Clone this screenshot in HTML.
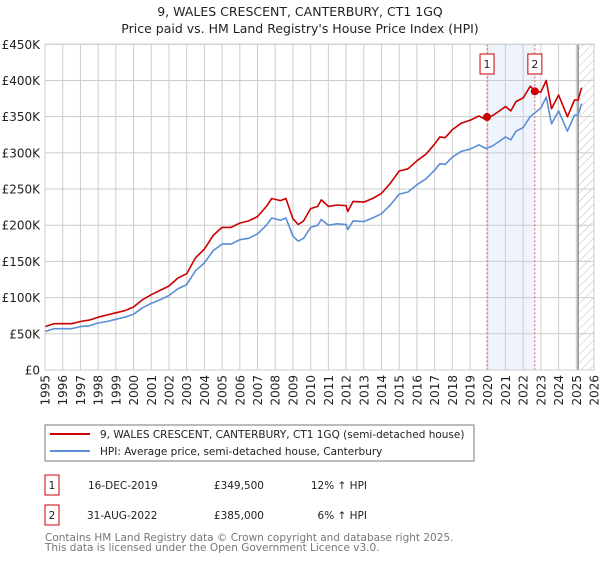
<!DOCTYPE html>
<html><head><meta charset="utf-8"><style>
body{margin:0;background:#fff;width:600px;height:560px;overflow:hidden;font-family:"DejaVu Sans","Liberation Sans",sans-serif}
svg text{font-family:"DejaVu Sans","Liberation Sans",sans-serif}
</style></head><body>
<svg id="c" width="600" height="560">
<defs><pattern id="hatch" width="6" height="6" patternUnits="userSpaceOnUse" patternTransform="rotate(45)"><line x1="0" y1="0" x2="0" y2="6" stroke="#bbb" stroke-width="1"/></pattern></defs>
<text x="300" y="16" text-anchor="middle" font-size="12.5" fill="#222">9, WALES CRESCENT, CANTERBURY, CT1 1GQ</text>
<text x="300" y="33" text-anchor="middle" font-size="12.5" fill="#222">Price paid vs. HM Land Registry's House Price Index (HPI)</text>
<g id="plot"></g>
<rect x="45" y="425" width="429" height="36" fill="#fff" stroke="#777"/>
<line x1="50" y1="434" x2="90" y2="434" stroke="#cc0000" stroke-width="2"/>
<text x="100" y="438" font-size="10.5" fill="#222">9, WALES CRESCENT, CANTERBURY, CT1 1GQ (semi-detached house)</text>
<line x1="50" y1="451" x2="90" y2="451" stroke="#5b8fd4" stroke-width="2"/>
<text x="100" y="455" font-size="10.5" fill="#222">HPI: Average price, semi-detached house, Canterbury</text>
<g font-size="10.5" fill="#222">
<rect x="45" y="475" width="14" height="20" fill="none" stroke="#cc0000"/>
<text x="52" y="489" text-anchor="middle">1</text>
<text x="88" y="489">16-DEC-2019</text>
<text x="264" y="489" text-anchor="end">£349,500</text>
<text x="367" y="489" text-anchor="end">12% ↑ HPI</text>
<rect x="45" y="505" width="14" height="20" fill="none" stroke="#cc0000"/>
<text x="52" y="519" text-anchor="middle">2</text>
<text x="87" y="519">31-AUG-2022</text>
<text x="264" y="519" text-anchor="end">£385,000</text>
<text x="367" y="519" text-anchor="end">6% ↑ HPI</text>
</g>
<text x="45" y="541" font-size="10.5" fill="#777">Contains HM Land Registry data © Crown copyright and database right 2025.</text>
<text x="45" y="551" font-size="10.5" fill="#777">This data is licensed under the Open Government Licence v3.0.</text>
</svg>
<script>
const years=[1995,1995.5,1996,1996.5,1997,1997.5,1998,1998.5,1999,1999.5,2000,2000.5,2001,2001.5,2002,2002.5,2003,2003.5,2004,2004.5,2005,2005.5,2006,2006.5,2007,2007.5,2007.8,2008.3,2008.6,2009,2009.3,2009.6,2010,2010.4,2010.6,2011,2011.5,2012,2012.1,2012.4,2013,2013.5,2014,2014.5,2015,2015.5,2016,2016.5,2017,2017.3,2017.6,2018,2018.5,2019,2019.5,2019.9,2020.3,2020.6,2021,2021.3,2021.6,2022,2022.4,2022.7,2023,2023.3,2023.6,2024,2024.5,2024.9,2025.1,2025.3];
const hpi=[53,57,57,57,60,61,65,67,70,73,77,86,92,97,103,112,118,137,148,165,174,174,180,182,188,200,210,207,210,185,178,182,197,200,208,200,202,201,194,206,205,210,216,228,243,246,256,264,276,285,284,294,302,305,311,306,310,315,322,318,330,335,350,356,362,377,340,358,330,352,352,368];
const price=[60,64,64,64,67,69,73,76,79,82,87,97,104,110,116,127,133,155,167,186,197,197,203,206,212,226,237,234,237,209,201,206,223,226,235,226,228,227,219,233,232,237,244,258,275,278,289,298,312,322,321,332,341,345,351,346,352,357,364,358,371,376,392,385,384,400,361,380,350,373,373,390];
const saleYears=[2019.96,2022.66];
const salePrices=[349.5,385];
const saleLabels=["1","2"];
const yTicks=[0,50,100,150,200,250,300,350,400,450];
const yTickLabels=["£0","£50K","£100K","£150K","£200K","£250K","£300K","£350K","£400K","£450K"];
const xTicks=[1995,1996,1997,1998,1999,2000,2001,2002,2003,2004,2005,2006,2007,2008,2009,2010,2011,2012,2013,2014,2015,2016,2017,2018,2019,2020,2021,2022,2023,2024,2025,2026];
const dataEnd=2025.1;
const X0=45,X1=594,Y0=370,Y1=44.3;
const sx=v=>X0+(v-1995)/(2026-1995)*(X1-X0);
const sy=v=>Y0-v/450*(Y0-Y1);
const NS="http://www.w3.org/2000/svg";
const g=document.getElementById('plot');
function mk(t,a){const e=document.createElementNS(NS,t);for(const k in a)e.setAttribute(k,a[k]);g.appendChild(e);return e;}
let e;
e=mk('rect',{x:sx(saleYears[0]),y:Y1,width:sx(saleYears[1])-sx(saleYears[0]),height:Y0-Y1,fill:'#eef3fc'});


e=mk('rect',{x:sx(dataEnd),y:Y1,width:X1-sx(dataEnd),height:Y0-Y1,fill:'url(#hatch)'});


yTicks.forEach((t,i)=>{
 e=mk('line',{x1:X0,x2:X1,y1:sy(t),y2:sy(t),stroke:'#ccc'});
 
 
 e=mk('text',{x:40,y:sy(t)+4.5,'text-anchor':'end','font-size':'12',fill:'#222'});
 e.textContent=yTickLabels[i];
 
 
});
xTicks.forEach(t=>{
 e=mk('line',{x1:sx(t),x2:sx(t),y1:Y1,y2:Y0,stroke:'#ccc'});
 
 
 e=mk('text',{x:0,y:0,'text-anchor':'end','font-size':'12',fill:'#222',transform:`translate(${sx(t)+4.5},375) rotate(-90)`});
 e.textContent=t;
 
 
});
e=mk('line',{x1:sx(dataEnd),x2:sx(dataEnd),y1:Y1,y2:Y0,stroke:'#888','stroke-width':1.5});


saleYears.forEach((s,i)=>{
 e=mk('line',{x1:sx(s),x2:sx(s),y1:Y1,y2:Y0,stroke:'#e06060','stroke-dasharray':'2,2'});
 
 
});
function path(arr,col,name){
 const d=years.map((y,i)=>(i?'L':'M')+sx(y).toFixed(1)+','+sy(arr[i]).toFixed(1)).join('');
 e=mk('path',{d:d,fill:'none',stroke:col,'stroke-width':1.6,'stroke-linejoin':'round'});
 
 
}
path(hpi,'#5b8fd4','hpi-line');
path(price,'#cc0000','price-line');
saleYears.forEach((s,i)=>{
 e=mk('circle',{cx:sx(s),cy:sy(salePrices[i]),r:4,fill:'#cc0000'});
 
 
 e=mk('rect',{x:sx(s)-7,y:54,width:14,height:20,fill:'#fff',stroke:'#cc0000'});
 
 
 e=mk('text',{x:sx(s),y:68,'text-anchor':'middle','font-size':'11',fill:'#222'});
 e.textContent=saleLabels[i];
 
 
});
e=mk('rect',{x:X0,y:Y1,width:X1-X0,height:Y0-Y1,fill:'none',stroke:'#ccc'});


</script>
</body></html>
